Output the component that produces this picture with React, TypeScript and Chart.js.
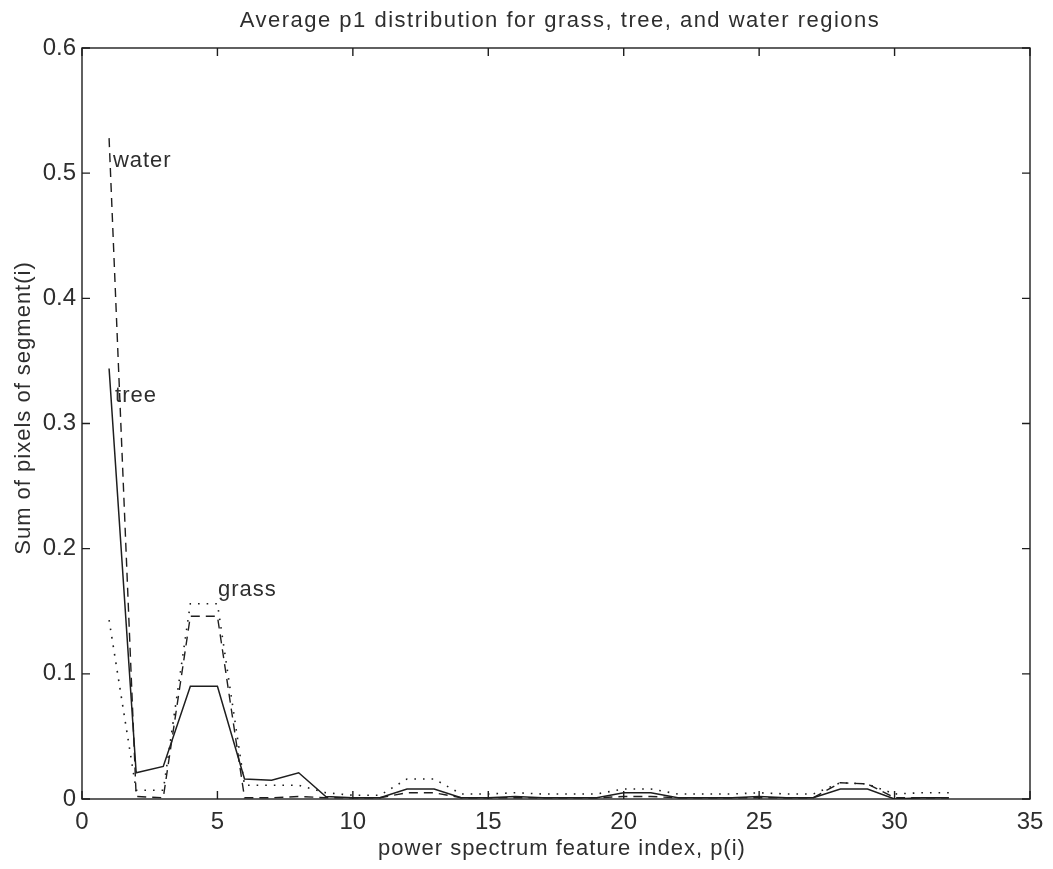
import React, { useEffect, useRef } from "react";
import { Chart, registerables } from "chart.js";

Chart.register(...registerables);

const featureIndex = [1, 2, 3, 4, 5, 6, 7, 8, 9, 10, 11, 12, 13, 14, 15, 16, 17, 18, 19, 20, 21, 22, 23, 24, 25, 26, 27, 28, 29, 30, 31, 32];
const waterValues = [0.528, 0.002, 0.001, 0.146, 0.146, 0.001, 0.001, 0.002, 0.001, 0.001, 0.001, 0.005, 0.005, 0.001, 0.001, 0.001, 0.001, 0.001, 0.001, 0.002, 0.002, 0.001, 0.001, 0.001, 0.001, 0.001, 0.001, 0.013, 0.012, 0.001, 0.001, 0.001];
const treeValues = [0.344, 0.021, 0.026, 0.090, 0.090, 0.016, 0.015, 0.021, 0.002, 0.001, 0.001, 0.008, 0.008, 0.001, 0.001, 0.002, 0.001, 0.001, 0.001, 0.005, 0.005, 0.001, 0.001, 0.001, 0.002, 0.001, 0.001, 0.008, 0.008, 0.0, 0.001, 0.001];
const grassValues = [0.143, 0.007, 0.007, 0.156, 0.156, 0.011, 0.011, 0.011, 0.005, 0.003, 0.003, 0.016, 0.016, 0.004, 0.004, 0.005, 0.004, 0.004, 0.004, 0.008, 0.008, 0.004, 0.004, 0.004, 0.005, 0.004, 0.004, 0.013, 0.012, 0.004, 0.005, 0.005];
const xTicks = [0, 5, 10, 15, 20, 25, 30, 35];
const yTicks = [0, 0.1, 0.2, 0.3, 0.4, 0.5, 0.6];
const labels = [
  { text: "water", x: 1.14, y: 0.51 },
  { text: "tree", x: 1.22, y: 0.322 },
  { text: "grass", x: 5.02, y: 0.167 },
];
const titleText = "Average p1 distribution for grass, tree, and water regions";
const xLabel = "power spectrum feature index, p(i)";
const yLabel = "Sum of pixels of segment(i)";

const FONT = "'Liberation Sans', Arial, Helvetica, sans-serif";
const INK = "#1e1e1e";
const TEXT = "#2e2e2e";

const toPoints = (vals: number[]) => vals.map((v, i) => ({ x: featureIndex[i], y: v }));

const framePlugin = {
  id: "matlabFrame",
  afterDraw(chart: any) {
    const ctx = chart.ctx;
    const { left, right, top, bottom } = chart.chartArea;
    const xs = chart.scales.x;
    const ys = chart.scales.y;
    ctx.save();
    ctx.strokeStyle = INK;
    ctx.lineWidth = 1.4;
    ctx.setLineDash([]);
    ctx.strokeRect(left, top, right - left, bottom - top);
    const tl = 8;
    ctx.beginPath();
    xTicks.forEach((t) => {
      const px = xs.getPixelForValue(t);
      ctx.moveTo(px, bottom);
      ctx.lineTo(px, bottom - tl);
      ctx.moveTo(px, top);
      ctx.lineTo(px, top + tl);
    });
    yTicks.forEach((t) => {
      const py = ys.getPixelForValue(t);
      ctx.moveTo(left, py);
      ctx.lineTo(left + tl, py);
      ctx.moveTo(right, py);
      ctx.lineTo(right - tl, py);
    });
    ctx.stroke();

    ctx.fillStyle = TEXT;
    // tick labels
    ctx.font = `24px ${FONT}`;
    (ctx as any).letterSpacing = "0px";
    ctx.textAlign = "center";
    ctx.textBaseline = "middle";
    xTicks.forEach((t) => {
      ctx.fillText(String(t), xs.getPixelForValue(t), bottom + 23);
    });
    ctx.textAlign = "right";
    yTicks.forEach((t) => {
      const s = t === 0 ? "0" : t.toFixed(1);
      ctx.fillText(s, left - 6, ys.getPixelForValue(t));
    });

    // title
    ctx.font = `22px ${FONT}`;
    (ctx as any).letterSpacing = "1.5px";
    ctx.textAlign = "center";
    ctx.textBaseline = "middle";
    ctx.fillText(titleText, (left + right) / 2 + 4, 21);

    // axis labels
    (ctx as any).letterSpacing = "1px";
    ctx.fillText(xLabel, (left + right) / 2 + 6, bottom + 50);
    ctx.save();
    ctx.translate(24, 408);
    ctx.rotate(-Math.PI / 2);
    ctx.fillText(yLabel, 0, 0);
    ctx.restore();

    // annotations
    ctx.textAlign = "left";
    labels.forEach((l) => {
      ctx.fillText(l.text, xs.getPixelForValue(l.x), ys.getPixelForValue(l.y));
    });
    ctx.restore();
  },
};

export default function App() {
  const ref = useRef<HTMLCanvasElement | null>(null);
  useEffect(() => {
    document.body.style.margin = "0";
    document.body.style.background = "#fff";
    if (!ref.current) return;
    const chart = new Chart(ref.current, {
      type: "line",
      data: {
        datasets: [
          {
            label: "water",
            data: toPoints(waterValues),
            borderColor: INK,
            borderWidth: 1.4,
            borderDash: [9, 6],
            pointRadius: 0,
            tension: 0,
            fill: false,
          },
          {
            label: "tree",
            data: toPoints(treeValues),
            borderColor: INK,
            borderWidth: 1.5,
            pointRadius: 0,
            tension: 0,
            fill: false,
          },
          {
            label: "grass",
            data: toPoints(grassValues),
            borderColor: INK,
            borderWidth: 1.6,
            borderDash: [1.6, 7],
            borderCapStyle: "butt",
            pointRadius: 0,
            tension: 0,
            fill: false,
          },
        ],
      },
      options: {
        animation: false,
        responsive: false,
        maintainAspectRatio: false,
        layout: { padding: { top: 48, right: 23, left: 0, bottom: 0 } },
        plugins: {
          legend: { display: false },
          title: { display: false },
          tooltip: { enabled: false },
        },
        scales: {
          x: {
            type: "linear",
            min: 0,
            max: 35,
            grid: { display: false, drawTicks: false },
            border: { display: false },
            ticks: { display: false, stepSize: 5 },
            afterFit: (s: any) => {
              s.height = 70;
            },
          },
          y: {
            type: "linear",
            min: 0,
            max: 0.6,
            grid: { display: false, drawTicks: false },
            border: { display: false },
            ticks: { display: false, stepSize: 0.1 },
            afterFit: (s: any) => {
              s.width = 82;
            },
          },
        },
      },
      plugins: [framePlugin],
    } as any);
    return () => chart.destroy();
  }, []);
  return (
    <div style={{ width: 1053, height: 869, background: "#fff" }}>
      <canvas ref={ref} width={1053} height={869} style={{ display: "block", width: 1053, height: 869 }} />
    </div>
  );
}
